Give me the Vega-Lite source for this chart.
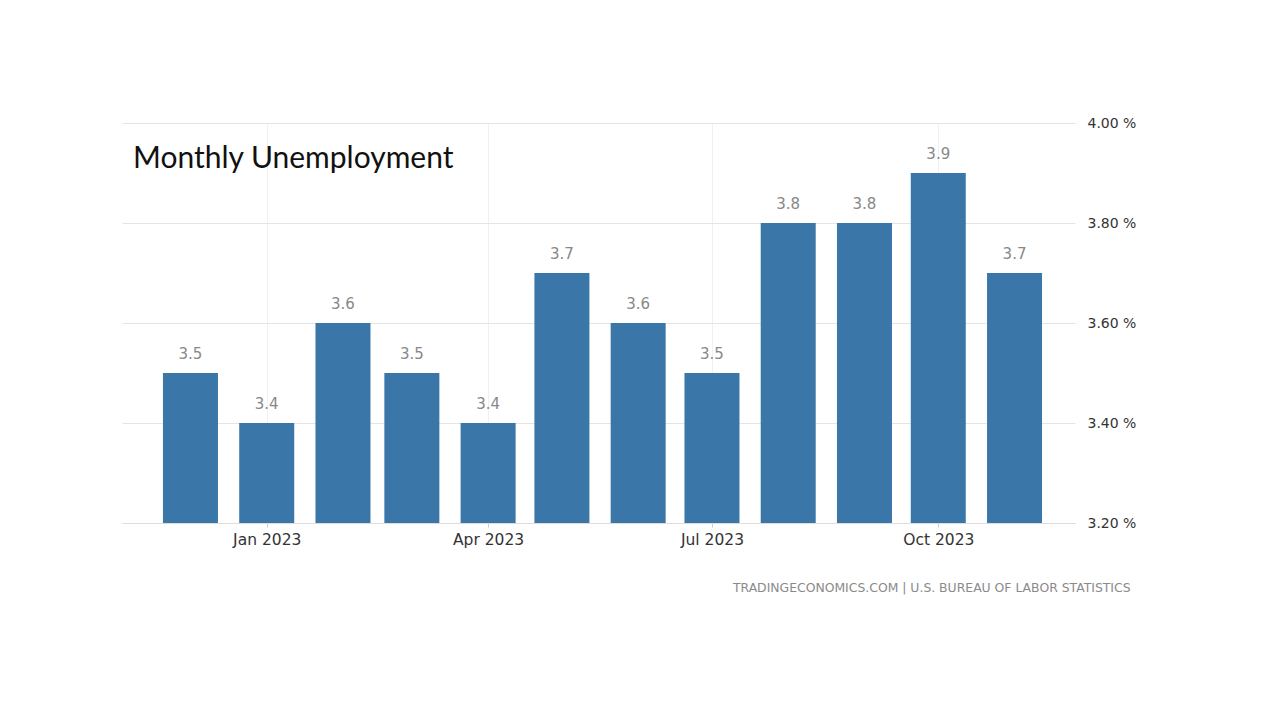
{
  "$schema": "https://vega.github.io/schema/vega-lite/v6.json",
  "width": 953,
  "height": 400,
  "autosize": {"type": "none"},
  "padding": {"left": 122, "top": 123, "right": 205, "bottom": 197},
  "background": "white",
  "title": {
    "text": "Monthly Unemployment",
    "anchor": "start",
    "frame": "group",
    "orient": "top",
    "offset": 0,
    "baseline": "middle",
    "dx": 11,
    "dy": 73,
    "font": "Lato",
    "fontSize": 30,
    "fontWeight": "normal",
    "color": "#111111"
  },
  "data": {
    "values": [
      {"month": "2022-12-01", "rate": 3.5},
      {"month": "2023-01-01", "rate": 3.4},
      {"month": "2023-02-01", "rate": 3.6},
      {"month": "2023-03-01", "rate": 3.5},
      {"month": "2023-04-01", "rate": 3.4},
      {"month": "2023-05-01", "rate": 3.7},
      {"month": "2023-06-01", "rate": 3.6},
      {"month": "2023-07-01", "rate": 3.5},
      {"month": "2023-08-01", "rate": 3.8},
      {"month": "2023-09-01", "rate": 3.8},
      {"month": "2023-10-01", "rate": 3.9},
      {"month": "2023-11-01", "rate": 3.7}
    ]
  },
  "config": {
    "view": {"stroke": null},
    "axis": {"labelFont": "DejaVu Sans", "titleFont": "DejaVu Sans"}
  },
  "encoding": {
    "x": {
      "field": "month",
      "type": "temporal",
      "scale": {
        "type": "utc",
        "padding": 0,
        "nice": false,
        "domain": [
          {"year": 2022, "month": 11, "date": 3, "hours": 4, "utc": true},
          {"year": 2023, "month": 11, "date": 25, "hours": 14, "utc": true}
        ]
      },
      "axis": {
        "values": [
          {"year": 2023, "month": 1, "date": 1, "utc": true},
          {"year": 2023, "month": 4, "date": 1, "utc": true},
          {"year": 2023, "month": 7, "date": 1, "utc": true},
          {"year": 2023, "month": 10, "date": 1, "utc": true}
        ],
        "format": "%b %Y",
        "labelFontSize": 15.5,
        "labelColor": "#333333",
        "labelPadding": 5,
        "domainColor": "#dddddd",
        "tickColor": "#cccccc",
        "tickSize": 4,
        "grid": true,
        "gridColor": "#f0f0f0",
        "title": "TRADINGECONOMICS.COM  |  U.S. BUREAU OF LABOR STATISTICS",
        "titleFontSize": 12.4,
        "titleFontWeight": "normal",
        "titleColor": "#8a8a8a",
        "titleAnchor": "end",
        "titleAlign": "right",
        "titleX": 1008,
        "titleY": 58
      }
    },
    "y": {
      "field": "rate",
      "type": "quantitative",
      "scale": {"domain": [3.2, 4.0], "zero": false, "nice": false},
      "axis": {
        "orient": "right",
        "values": [3.2, 3.4, 3.6, 3.8, 4.0],
        "labelExpr": "format(datum.value, '.2f') + ' %'",
        "labelFontSize": 14,
        "labelColor": "#333333",
        "labelPadding": 12,
        "domain": false,
        "ticks": false,
        "grid": true,
        "gridColor": "#e4e4e4",
        "title": null
      }
    }
  },
  "layer": [
    {
      "mark": {"type": "bar", "size": 55, "color": "#3a77a8", "clip": true}
    },
    {
      "mark": {"type": "text", "baseline": "bottom", "dy": -11, "font": "DejaVu Sans", "fontSize": 15, "color": "#888888"},
      "encoding": {"text": {"field": "rate", "type": "quantitative", "format": ".1f"}}
    }
  ]
}
